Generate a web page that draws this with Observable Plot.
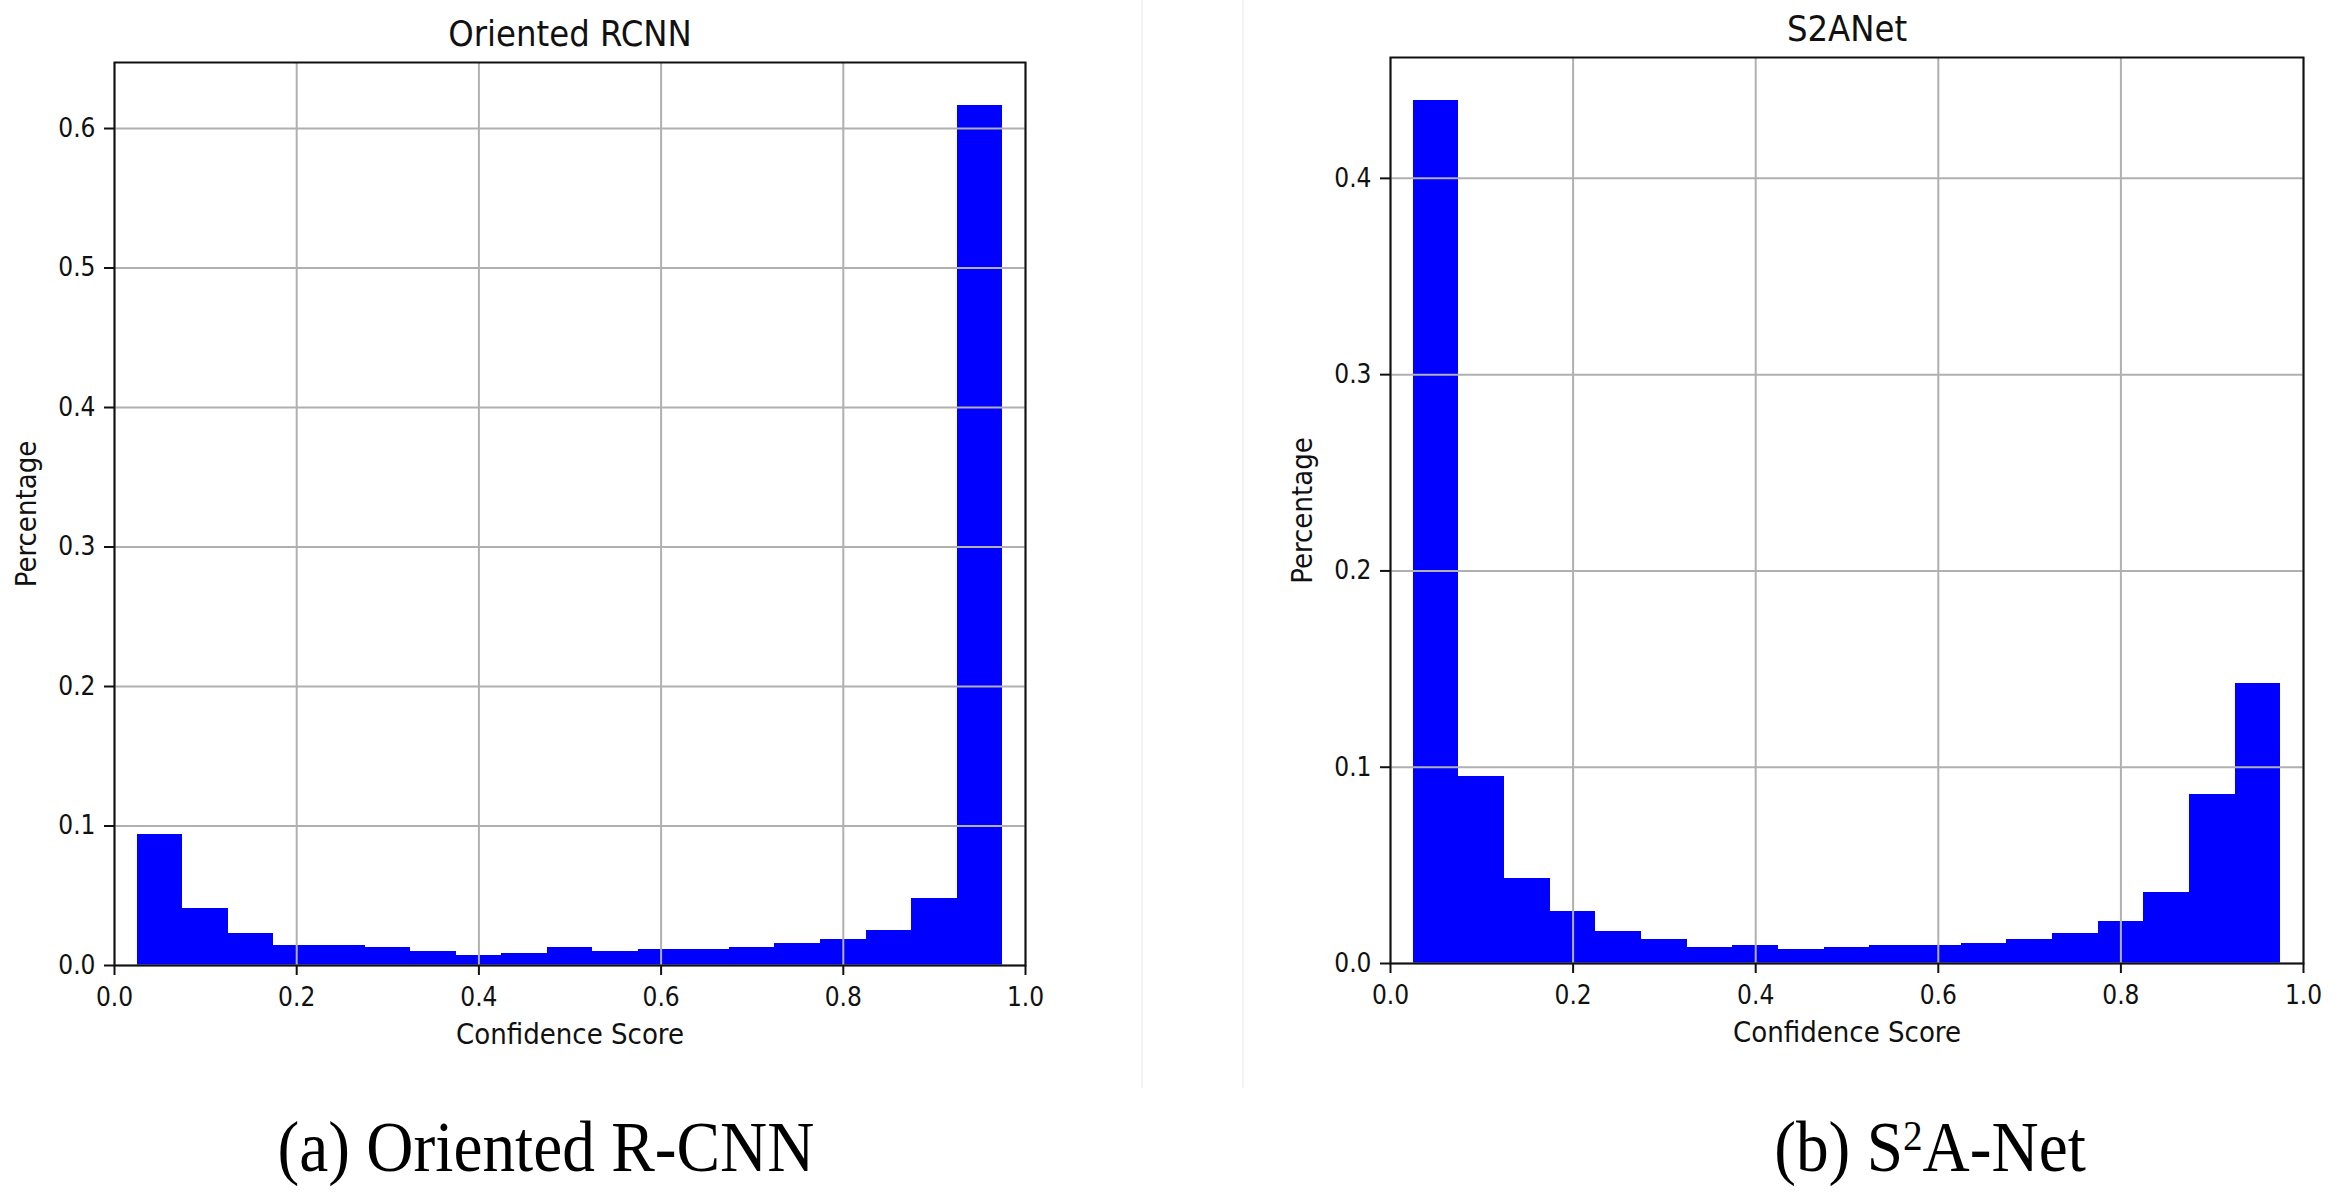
<!DOCTYPE html>
<html>
<head>
<meta charset="utf-8">
<script src="https://cdn.jsdelivr.net/npm/d3@7"></script>
<script src="https://cdn.jsdelivr.net/npm/@observablehq/plot@0.6"></script>
<style>
  html, body { margin: 0; padding: 0; background: #fff; }
  #root { position: relative; width: 2341px; height: 1201px; overflow: hidden; background: #fff; }
  .panel { position: absolute; top: 0; }
  .divider { position: absolute; top: 0; width: 2px; height: 1088px; background: #f3f3fb; }
  .cap { position: absolute; font-family: "Liberation Serif", "Times New Roman", serif; font-size: 71px;
         line-height: 1; white-space: nowrap; color: #000; }
  .sup { font-size: 0.6em; position: relative; top: -0.5em; }
</style>
</head>
<body>
<div id="root">
  <div class="divider" style="left:1141px"></div>
  <div class="divider" style="left:1242px"></div>
  <div class="panel" id="left" style="left:0px"></div>
  <div class="panel" id="right" style="left:1170px"></div>
  <div class="cap" style="left:546px; top:1112px; transform: translateX(-50%) scaleX(0.92);">(a) Oriented R-CNN</div>
  <div class="cap" style="left:1930px; top:1112px; transform: translateX(-50%) scaleX(0.92);">(b) S<span class="sup">2</span>A-Net</div>
</div>
<script>
// Histogram bin edges (confidence score)
const binEdges = [0.025, 0.075, 0.125, 0.175, 0.225, 0.275, 0.325, 0.375, 0.425, 0.475,
                  0.525, 0.575, 0.625, 0.675, 0.725, 0.775, 0.825, 0.875, 0.925, 0.975];
// Percentage per bin
const orientedRcnn = [0.0938, 0.0406, 0.0228, 0.0145, 0.0145, 0.0126, 0.0102, 0.0071, 0.0088, 0.0126,
                      0.0100, 0.0114, 0.0114, 0.0126, 0.0159, 0.0183, 0.0254, 0.0480, 0.6165];
const s2anet = [0.4396, 0.0955, 0.0434, 0.0264, 0.0163, 0.0123, 0.0082, 0.0092, 0.0072, 0.0082,
                0.0092, 0.0092, 0.0103, 0.0123, 0.0154, 0.0213, 0.0364, 0.0863, 0.1427];
const xTicks = [0, 0.2, 0.4, 0.6, 0.8, 1.0];
const yTicksRcnn = [0, 0.1, 0.2, 0.3, 0.4, 0.5, 0.6];
const yTicksS2a = [0, 0.1, 0.2, 0.3, 0.4];
const titles = ["Oriented RCNN", "S2ANet"];
const xLabel = "Confidence Score";
const yLabel = "Percentage";

const FONT = "DejaVu Sans Condensed, DejaVu Sans, sans-serif";
const fmt = d3.format(".1f");

function chart({values, yTicks, title, width, height, marginLeft, marginRight, marginTop, marginBottom}) {
  const data = values.map((v, i) => ({x1: binEdges[i], x2: binEdges[i + 1], v}));
  return Plot.plot({
    width, height, marginLeft, marginRight, marginTop, marginBottom,
    style: {fontFamily: FONT, fontSize: "26px", background: "transparent", color: "#111", overflow: "visible"},
    x: {domain: [0, 1]},
    y: {domain: [0, d3.max(values) * 1.05]},
    marks: [
      Plot.rect(data, {x1: "x1", x2: "x2", y1: 0, y2: "v", fill: "#0000ff", shapeRendering: "crispEdges"}),
      Plot.gridX(xTicks, {stroke: "#b0b0b0", strokeOpacity: 1, strokeWidth: 2}),
      Plot.gridY(yTicks, {stroke: "#b0b0b0", strokeOpacity: 1, strokeWidth: 2}),
      Plot.frame({stroke: "#111", strokeWidth: 2}),
      Plot.axisX(xTicks, {tickSize: 10, tickPadding: 12, tickFormat: fmt, label: null, strokeWidth: 2, fontSize: 26}),
      Plot.axisY(yTicks, {tickSize: 10, tickPadding: 9, tickFormat: fmt, label: null, strokeWidth: 2, fontSize: 26}),
      Plot.text([title], {text: d => d, frameAnchor: "top", dy: -28.5, lineAnchor: "middle",
                          fontSize: 36, fontFamily: FONT, fill: "#111"}),
      Plot.text([xLabel], {text: d => d, frameAnchor: "bottom", dy: 69, lineAnchor: "middle",
                           fontSize: 29, fontFamily: FONT, fill: "#111"}),
      Plot.text([yLabel], {text: d => d, frameAnchor: "left", dx: -88, rotate: -90, lineAnchor: "middle",
                           textAnchor: "middle", fontSize: 29, fontFamily: FONT, fill: "#111"})
    ]
  });
}

document.getElementById("left").appendChild(chart({
  values: orientedRcnn, yTicks: yTicksRcnn, title: titles[0],
  width: 1170, height: 1100, marginLeft: 114, marginRight: 145, marginTop: 62, marginBottom: 135
}));
document.getElementById("right").appendChild(chart({
  values: s2anet, yTicks: yTicksS2a, title: titles[1],
  width: 1171, height: 1100, marginLeft: 220, marginRight: 38, marginTop: 57, marginBottom: 137
}));
</script>
</body>
</html>
